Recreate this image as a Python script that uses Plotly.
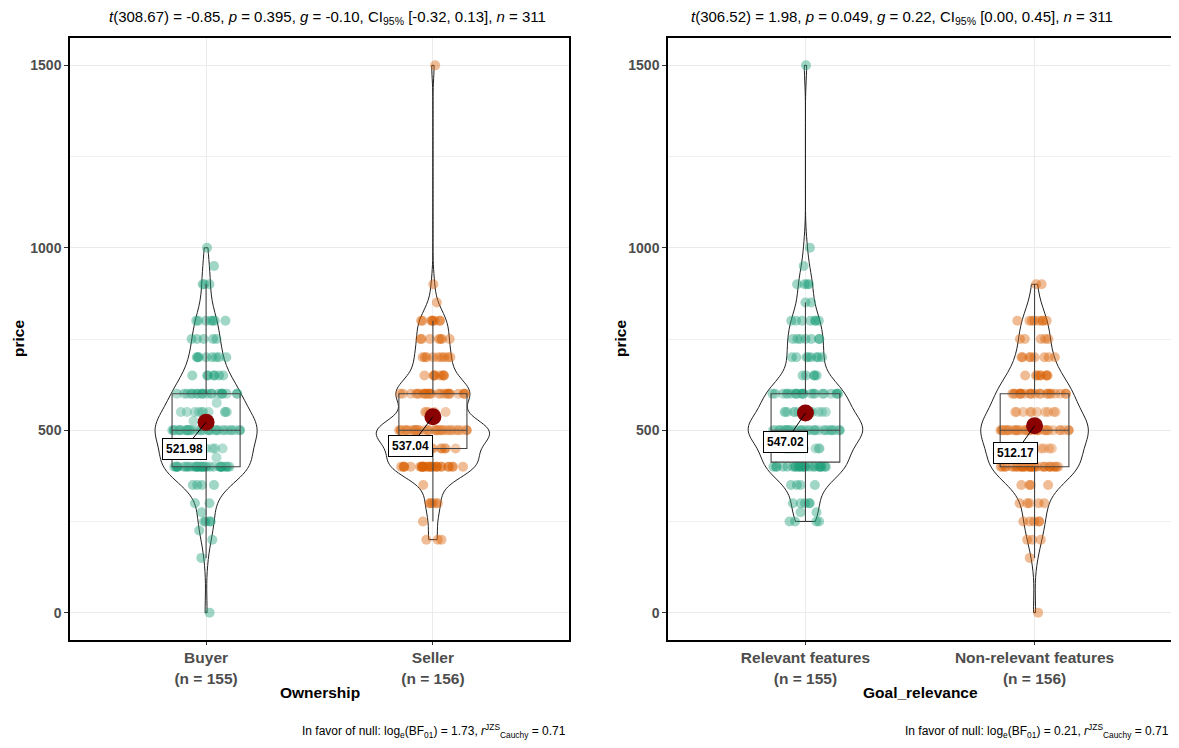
import numpy as np
import plotly.graph_objects as go

# ---------------- data ----------------
left_groups = ["Buyer", "Seller"]
left_n = [155, 156]
left_means = [521.98, 537.04]
right_groups = ["Relevant features", "Non-relevant features"]
right_n = [155, 156]
right_means = [547.02, 512.17]

buyer_levels = [1000, 950, 900, 800, 750, 700, 650, 600, 575, 550, 525, 500, 450, 425, 400, 350, 300, 275, 250, 225, 200, 150, 0]
buyer_counts = [1, 1, 3, 7, 5, 8, 7, 20, 1, 10, 1, 36, 6, 1, 33, 4, 2, 1, 4, 1, 1, 1, 1]

seller_levels = [1500, 900, 850, 800, 750, 700, 650, 600, 550, 500, 450, 400, 350, 300, 250, 200]
seller_counts = [1, 1, 1, 8, 7, 9, 8, 25, 5, 38, 15, 28, 1, 5, 1, 3]

relevant_levels = [1500, 1000, 950, 900, 850, 800, 750, 700, 650, 600, 550, 500, 450, 400, 350, 300, 275, 250]
relevant_counts = [1, 1, 1, 4, 2, 7, 7, 8, 5, 22, 13, 34, 11, 24, 4, 5, 2, 4]

nonrel_levels = [900, 800, 750, 700, 650, 600, 550, 500, 450, 400, 350, 300, 250, 200, 150, 0]
nonrel_counts = [2, 8, 5, 8, 8, 22, 10, 36, 7, 31, 4, 5, 5, 3, 1, 1]

left_title = ("<i>t</i>(308.67) = -0.85, <i>p</i> = 0.395, <i>g</i> = -0.10, "
              "CI<sub>95%</sub> [-0.32, 0.13], <i>n</i> = 311")
right_title = ("<i>t</i>(306.52) = 1.98, <i>p</i> = 0.049, <i>g</i> = 0.22, "
               "CI<sub>95%</sub> [0.00, 0.45], <i>n</i> = 311")
left_caption = ("In favor of null: log<sub>e</sub>(BF<sub>01</sub>) = 1.73, "
                "<i>r</i><sup>JZS</sup><sub>Cauchy</sub> = 0.71")
right_caption = ("In favor of null: log<sub>e</sub>(BF<sub>01</sub>) = 0.21, "
                 "<i>r</i><sup>JZS</sup><sub>Cauchy</sub> = 0.71")
left_xtitle = "Ownership"
right_xtitle = "Goal_relevance"
y_title = "price"
y_ticks = [0, 500, 1000, 1500]

# ---------------- style ----------------
W, H = 1179, 748
OFF = 8                      # page body margin
FW, FH = W - OFF, H - OFF    # figure size
FONT = "Liberation Sans, Arial, sans-serif"
COLORS = ["#1B9E77", "#D95F02"]
panels = [  # pixel boxes in page coordinates
    dict(x0=70, x1=569, y0=38, y1=640, tcx=327, ytx=18),
    dict(x0=668, x1=1172, y0=38, y1=640, tcx=902, ytx=620),
]
violin_widths = [[0.45, 0.50], [0.50, 0.47]]
label_offsets = [[(-22, 27), (-22, 29)], [(-20, 29), (-19, 27)]]
BW_ADJUST = 1.0


def px(x):
    return (x - OFF) / FW


def py(y):
    return 1 - (y - OFF) / FH


def expand(levels, counts):
    return np.repeat(np.array(levels, dtype=float), counts)


def nrd0(v):
    sd = np.std(v, ddof=1)
    q1, q3 = np.percentile(v, [25, 75])
    lo = min(sd, (q3 - q1) / 1.34)
    return 0.9 * lo * len(v) ** (-0.2)


data = [
    [expand(buyer_levels, buyer_counts), expand(seller_levels, seller_counts)],
    [expand(relevant_levels, relevant_counts), expand(nonrel_levels, nonrel_counts)],
]
groups = [left_groups, right_groups]
ns = [left_n, right_n]
means = [left_means, right_means]
titles = [left_title, right_title]
captions = [left_caption, right_caption]
xtitles = [left_xtitle, right_xtitle]

fig = go.Figure()
annotations = []

for p in range(2):
    xa = "x" if p == 0 else "x2"
    ya = "y" if p == 0 else "y2"
    for g in range(2):
        vals = data[p][g]
        cat = groups[p][g]
        xs = [cat] * len(vals)
        # jittered points
        fig.add_trace(go.Box(
            x=xs, y=vals, xaxis=xa, yaxis=ya,
            boxpoints="all", jitter=1, pointpos=0, width=0.3,
            fillcolor="rgba(0,0,0,0)", line=dict(color="rgba(0,0,0,0)", width=0),
            marker=dict(color=COLORS[g], size=10, opacity=0.42, line=dict(width=0)),
            showlegend=False, hoverinfo="y",
        ))
        # box
        fig.add_trace(go.Box(
            x=xs, y=vals, xaxis=xa, yaxis=ya,
            boxpoints="outliers", marker=dict(opacity=0, size=1),
            width=0.3, whiskerwidth=0,
            fillcolor="rgba(255,255,255,0.2)", line=dict(color="#444444", width=1.1),
            showlegend=False, hoverinfo="skip",
        ))
        # violin
        fig.add_trace(go.Violin(
            x=xs, y=vals, xaxis=xa, yaxis=ya,
            points=False, spanmode="hard", bandwidth=BW_ADJUST * nrd0(vals),
            width=violin_widths[p][g], scalemode="width",
            fillcolor="rgba(255,255,255,0.2)", line=dict(color="#222222", width=1),
            showlegend=False, hoverinfo="skip",
        ))
    # means
    fig.add_trace(go.Scatter(
        x=groups[p], y=means[p], xaxis=xa, yaxis=ya, mode="markers",
        marker=dict(color="#8B0000", size=17), showlegend=False,
    ))
    for g in range(2):
        ax, ay = label_offsets[p][g]
        annotations.append(dict(
            x=groups[p][g], y=means[p][g], xref=xa, yref=ya,
            text="<b>%.2f</b>" % means[p][g], showarrow=True, arrowhead=0,
            arrowwidth=1, arrowcolor="black", ax=ax, ay=ay,
            bgcolor="white", bordercolor="black", borderwidth=1, borderpad=3,
            font=dict(family=FONT, size=12, color="black"),
        ))

    pb = panels[p]
    xdom = [px(pb["x0"]), px(pb["x1"])]
    ydom = [py(pb["y1"]), py(pb["y0"])]
    xkey = "xaxis" if p == 0 else "xaxis2"
    ykey = "yaxis" if p == 0 else "yaxis2"
    fig.update_layout(**{
        xkey: dict(
            domain=xdom, anchor=ya, type="category", range=[-0.6, 1.6],
            categoryorder="array", categoryarray=groups[p],
            tickvals=groups[p],
            ticktext=["<b>%s<br>(n = %d)</b>" % (c, n) for c, n in zip(groups[p], ns[p])],
            tickfont=dict(family=FONT, size=15.5, color="#4D4D4D"),
            showgrid=True, gridcolor="#EBEBEB", gridwidth=1,
            showline=True, linecolor="black", linewidth=1.5, mirror=True,
            ticks="outside", ticklen=3, tickcolor="#333333", zeroline=False,
            automargin=False, fixedrange=True,
        ),
        ykey: dict(
            domain=ydom, anchor=xa, range=[-75, 1575],
            tickvals=y_ticks, ticktext=["<b>%d</b>" % v for v in y_ticks],
            tickfont=dict(family=FONT, size=14, color="#4D4D4D"),
            showgrid=True, gridcolor="#EBEBEB", gridwidth=1,
            minor=dict(dtick=250, tick0=0, showgrid=True, gridcolor="#F0F0F0", gridwidth=1, ticks=""),
            showline=True, linecolor="black", linewidth=1.5, mirror=True,
            ticks="outside", ticklen=4, tickcolor="#333333", zeroline=False,
            automargin=False, fixedrange=True,
        ),
    })
    cx = (pb["x0"] + pb["x1"]) / 2
    annotations.append(dict(
        x=px(pb["tcx"]), y=py(18), xref="paper", yref="paper", showarrow=False,
        text=titles[p], font=dict(family=FONT, size=15, color="black"),
        xanchor="center", yanchor="middle",
    ))
    annotations.append(dict(
        x=px(pb["x1"] - 1), y=py(731), xref="paper", yref="paper", showarrow=False,
        text=captions[p], font=dict(family=FONT, size=12, color="black"),
        xanchor="right", yanchor="middle",
    ))
    annotations.append(dict(
        x=px(cx), y=py(692), xref="paper", yref="paper", showarrow=False,
        text="<b>%s</b>" % xtitles[p], font=dict(family=FONT, size=15.5, color="black"),
        xanchor="center", yanchor="middle",
    ))
    annotations.append(dict(
        x=px(pb["ytx"]), y=py(339), xref="paper", yref="paper", showarrow=False,
        text="<b>%s</b>" % y_title, font=dict(family=FONT, size=15.5, color="black"),
        textangle=-90, xanchor="center", yanchor="middle",
    ))

fig.update_layout(
    width=FW, height=FH, template="none",
    margin=dict(l=0, r=0, t=0, b=0),
    paper_bgcolor="white", plot_bgcolor="white",
    boxmode="overlay", violinmode="overlay",
    annotations=annotations, showlegend=False,
    font=dict(family=FONT),
)

fig.write_html("out.html")
